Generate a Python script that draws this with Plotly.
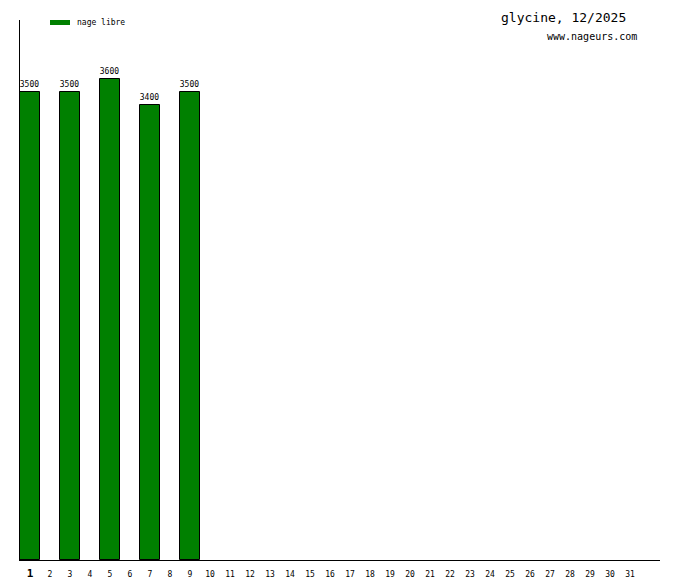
import plotly.graph_objects as go

days = list(range(1, 32))
swim_days = [1, 3, 5, 7, 9]
distances = [3500, 3500, 3600, 3400, 3500]
tick_labels = ["<span style='font-size:11px'><b>1</b></span>"] + [str(d) for d in range(2, 32)]
series_name = "nage libre"
title_text = "glycine, 12/2025"
site_text = "www.nageurs.com"

font_family = "DejaVu Sans Mono"
green = "#008000"

fig = go.Figure()
fig.add_trace(go.Bar(
    x=swim_days, y=distances, width=1,
    marker=dict(color=green, line=dict(color="black", width=1)),
    text=[str(v) for v in distances], textposition="outside",
    textfont=dict(family=font_family, size=8, color="black"),
    cliponaxis=False, name=series_name, showlegend=False, hoverinfo="skip",
))

fig.update_layout(
    width=680, height=580,
    margin=dict(l=20, r=20, t=20, b=20, autoexpand=False),
    plot_bgcolor="white", paper_bgcolor="white",
    font=dict(family=font_family, color="black"),
    bargap=0,
    xaxis=dict(range=[0.5, 32.5], tickmode="array", tickvals=days, ticktext=tick_labels,
               showgrid=False, zeroline=False, showline=True, linecolor="black", linewidth=1,
               ticks="", tickfont=dict(family=font_family, size=8, color="black"),
               ticklabelstandoff=6, automargin=False),
    yaxis=dict(range=[0, 4038], showgrid=False, zeroline=False, showline=True,
               linecolor="black", linewidth=1, showticklabels=False, ticks="", automargin=False),
)

# legend
fig.add_shape(type="rect", xref="paper", yref="paper",
              x0=30/640, x1=50/640, y0=1 - 5/540, y1=1,
              fillcolor=green, line=dict(width=0))
fig.add_annotation(xref="paper", yref="paper", x=55/640, y=1 - 2.5/540, text=series_name,
                   showarrow=False, xanchor="left", yanchor="middle",
                   font=dict(family=font_family, size=8, color="black"))
fig.add_annotation(xref="paper", yref="paper", x=608/640, y=1 + 2/540, text=title_text,
                   showarrow=False, xanchor="right", yanchor="middle",
                   font=dict(family=font_family, size=13, color="black"))
fig.add_annotation(xref="paper", yref="paper", x=619/640, y=1 - 17/540, text=site_text,
                   showarrow=False, xanchor="right", yanchor="middle",
                   font=dict(family=font_family, size=10, color="black"))

fig.write_html("out.html", config={"displayModeBar": False},
               post_script="document.body.style.margin='0';")
